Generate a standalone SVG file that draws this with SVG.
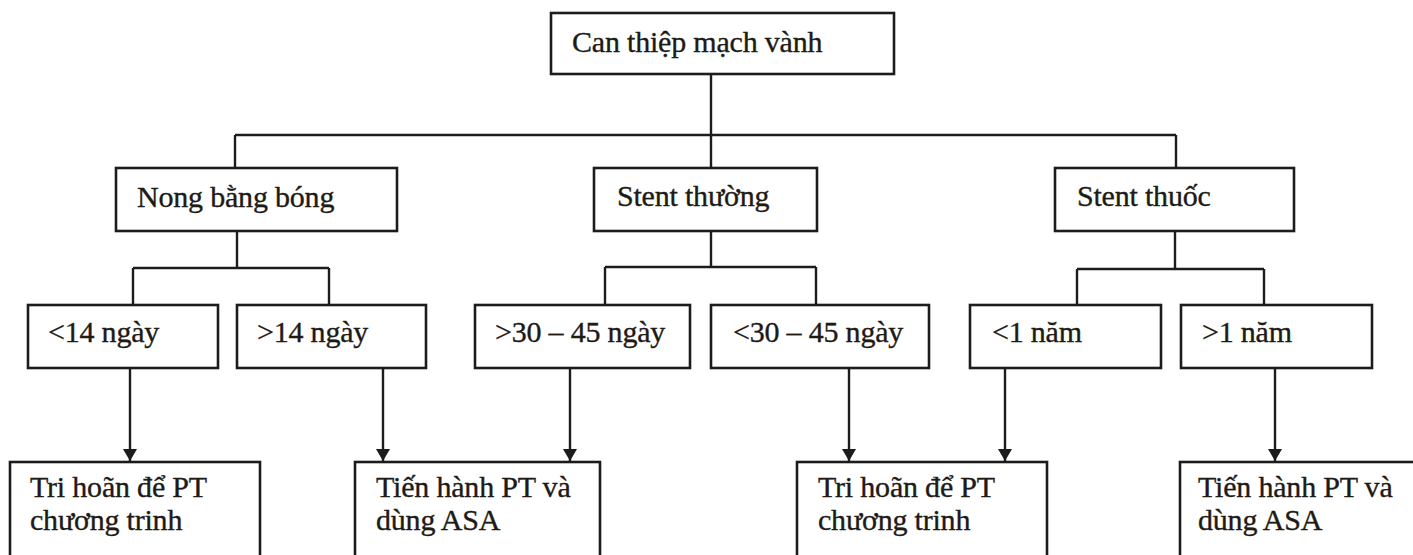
<svg xmlns="http://www.w3.org/2000/svg" width="1413" height="555" viewBox="0 0 1413 555">
  <style>
    .box { fill: #ffffff; stroke: #1c1c1c; stroke-width: 2.6; }
    .lbl { font-family: "Liberation Serif", "Times New Roman", serif; font-size: 30px; fill: #1e1a16; stroke: #1e1a16; stroke-width: 0.35; letter-spacing: -0.2px; }
    .wire { fill: none; stroke: #1c1c1c; stroke-width: 2.4; }
  </style>
  <defs>
    <marker id="arrow" viewBox="0 0 12 14" refX="12" refY="7" markerWidth="12" markerHeight="14" markerUnits="userSpaceOnUse" orient="auto">
      <path d="M0,0 L12,7 L0,14 Z" fill="#1c1c1c"/>
    </marker>
  </defs>
  <rect width="1413" height="555" fill="#ffffff"/>

  <!-- connectors -->
  <g id="connectors">
    <!-- root to second level -->
    <path class="wire" d="M711,74 V168"/>
    <path class="wire" d="M235,135 H1176"/>
    <path class="wire" d="M235,135 V168"/>
    <path class="wire" d="M1176,135 V168"/>
    <!-- Nong bằng bóng branch -->
    <path class="wire" d="M237,231 V268"/>
    <path class="wire" d="M133,268 H329"/>
    <path class="wire" d="M133,268 V305"/>
    <path class="wire" d="M329,268 V305"/>
    <!-- Stent thường branch -->
    <path class="wire" d="M711,231 V267"/>
    <path class="wire" d="M605,267 H816"/>
    <path class="wire" d="M605,267 V305"/>
    <path class="wire" d="M816,267 V305"/>
    <!-- Stent thuốc branch -->
    <path class="wire" d="M1175,231 V269"/>
    <path class="wire" d="M1077,269 H1264"/>
    <path class="wire" d="M1077,269 V305"/>
    <path class="wire" d="M1264,269 V305"/>
    <!-- arrows to outcomes -->
    <path class="wire" d="M130,368 V461" marker-end="url(#arrow)"/>
    <path class="wire" d="M383,368 V461" marker-end="url(#arrow)"/>
    <path class="wire" d="M570,368 V461" marker-end="url(#arrow)"/>
    <path class="wire" d="M849,368 V461" marker-end="url(#arrow)"/>
    <path class="wire" d="M1005,368 V461" marker-end="url(#arrow)"/>
    <path class="wire" d="M1275,368 V461" marker-end="url(#arrow)"/>
  </g>

  <g id="root">
    <rect class="box" x="551" y="13" width="343" height="61"/>
    <text class="lbl" x="572" y="52">Can thiệp mạch vành</text>
  </g>

  <g id="nong-bang-bong">
    <rect class="box" x="116" y="168" width="281" height="63"/>
    <text class="lbl" x="137" y="207">Nong bằng bóng</text>
  </g>
  <g id="stent-thuong">
    <rect class="box" x="594" y="168" width="223" height="63"/>
    <text class="lbl" x="617" y="206">Stent thường</text>
  </g>
  <g id="stent-thuoc">
    <rect class="box" x="1055" y="168" width="239" height="63"/>
    <text class="lbl" x="1077" y="206">Stent thuốc</text>
  </g>

  <g id="lt14">
    <rect class="box" x="28" y="305" width="190" height="63"/>
    <text class="lbl" x="48" y="342">&lt;14 ngày</text>
  </g>
  <g id="gt14">
    <rect class="box" x="237" y="305" width="189" height="63"/>
    <text class="lbl" x="257" y="342">&gt;14 ngày</text>
  </g>
  <g id="gt30-45">
    <rect class="box" x="475" y="305" width="215" height="63"/>
    <text class="lbl" x="495" y="342">&gt;30 – 45 ngày</text>
  </g>
  <g id="lt30-45">
    <rect class="box" x="711" y="305" width="218" height="63"/>
    <text class="lbl" x="733" y="342">&lt;30 – 45 ngày</text>
  </g>
  <g id="lt1nam">
    <rect class="box" x="970" y="305" width="191" height="63"/>
    <text class="lbl" x="992" y="342">&lt;1 năm</text>
  </g>
  <g id="gt1nam">
    <rect class="box" x="1181" y="305" width="191" height="63"/>
    <text class="lbl" x="1202" y="342">&gt;1 năm</text>
  </g>

  <g id="tri-hoan-1">
    <rect class="box" x="10" y="462" width="250" height="110"/>
    <text class="lbl" x="30" y="497">Tri hoãn để PT</text>
    <text class="lbl" x="30" y="530">chương trinh</text>
  </g>
  <g id="tien-hanh-1">
    <rect class="box" x="355" y="462" width="245" height="110"/>
    <text class="lbl" x="376" y="497">Tiến hành PT và</text>
    <text class="lbl" x="376" y="530">dùng ASA</text>
  </g>
  <g id="tri-hoan-2">
    <rect class="box" x="797" y="462" width="250" height="110"/>
    <text class="lbl" x="818" y="497">Tri hoãn để PT</text>
    <text class="lbl" x="818" y="530">chương trinh</text>
  </g>
  <g id="tien-hanh-2">
    <rect class="box" x="1180" y="462" width="260" height="110"/>
    <text class="lbl" x="1198" y="497">Tiến hành PT và</text>
    <text class="lbl" x="1198" y="530">dùng ASA</text>
  </g>
</svg>
